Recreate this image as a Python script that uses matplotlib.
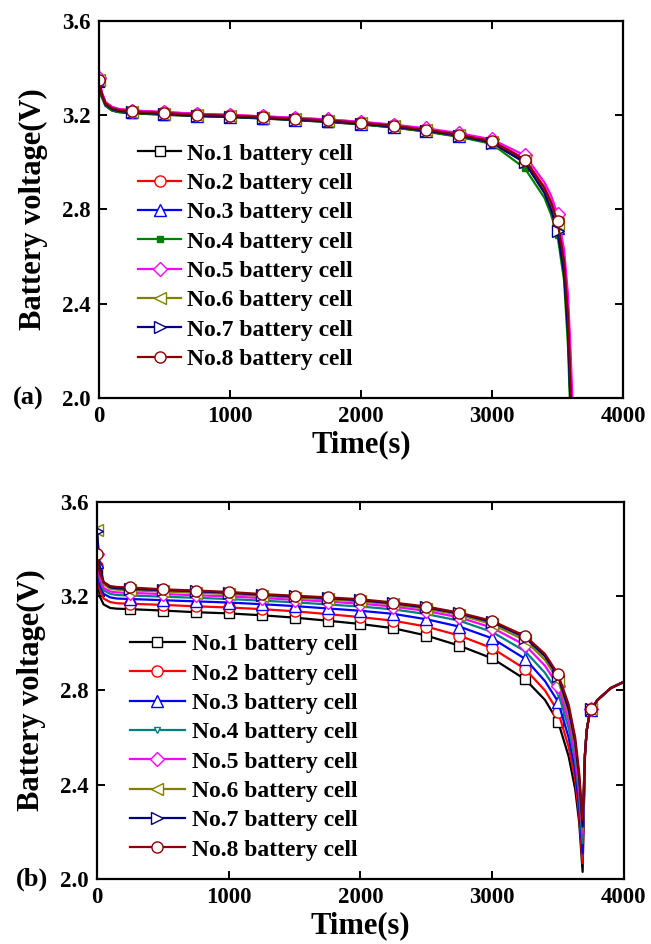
import numpy as np
import matplotlib
matplotlib.use("Agg")
import matplotlib.pyplot as plt

plt.rcParams["font.family"] = ["Liberation Serif", "DejaVu Serif"]
plt.rcParams["font.weight"] = "bold"

LABELS = [f"No.{i} battery cell" for i in range(1, 9)]

# ---- panel (a): time (s) and voltage (V)
T_A = [0, 20, 50, 100, 150, 250, 500, 750, 1000, 1250, 1500, 1750, 2000, 2250,
       2500, 2750, 3000, 3250, 3400, 3450, 3500, 3550, 3580, 3600, 3620, 3640]
V_A1 = [3.34, 3.28, 3.24, 3.22, 3.213, 3.208, 3.202, 3.196, 3.192, 3.186, 3.179, 3.171, 3.161, 3.148,
        3.131, 3.110, 3.082, 3.000, 2.875, 2.81, 2.73, 2.55, 2.30, 1.98, 1.6, 1.3]
V_A2 = [3.35, 3.30, 3.255, 3.235, 3.226, 3.220, 3.213, 3.206, 3.201, 3.195, 3.188, 3.181, 3.171, 3.158,
        3.141, 3.120, 3.092, 3.015, 2.895, 2.835, 2.76, 2.59, 2.37, 2.08, 1.75, 1.45]
V_A3 = [3.35, 3.29, 3.245, 3.225, 3.218, 3.212, 3.205, 3.198, 3.194, 3.188, 3.181, 3.174, 3.164, 3.151,
        3.134, 3.113, 3.085, 3.005, 2.88, 2.815, 2.72, 2.54, 2.30, 1.98, 1.6, 1.3]
V_A4 = [3.34, 3.28, 3.24, 3.22, 3.214, 3.209, 3.203, 3.197, 3.193, 3.187, 3.180, 3.172, 3.162, 3.148,
        3.130, 3.108, 3.078, 2.975, 2.85, 2.78, 2.69, 2.50, 2.22, 1.9, 1.5, 1.2]
V_A5 = [3.36, 3.30, 3.255, 3.235, 3.226, 3.220, 3.213, 3.206, 3.201, 3.195, 3.189, 3.182, 3.172, 3.160,
        3.144, 3.124, 3.097, 3.030, 2.915, 2.86, 2.78, 2.63, 2.44, 2.20, 1.9, 1.55]
V_A6 = [3.35, 3.29, 3.248, 3.228, 3.220, 3.214, 3.207, 3.200, 3.196, 3.190, 3.183, 3.176, 3.166, 3.153,
        3.136, 3.115, 3.087, 3.008, 2.885, 2.82, 2.74, 2.57, 2.33, 2.02, 1.65, 1.35]
V_A7 = [3.35, 3.29, 3.246, 3.226, 3.218, 3.212, 3.205, 3.198, 3.194, 3.188, 3.181, 3.174, 3.164, 3.151,
        3.134, 3.113, 3.084, 3.000, 2.87, 2.80, 2.71, 2.53, 2.28, 1.96, 1.6, 1.3]
V_A8 = [3.35, 3.29, 3.25, 3.23, 3.222, 3.216, 3.209, 3.202, 3.198, 3.192, 3.185, 3.178, 3.168, 3.155,
        3.138, 3.117, 3.089, 3.012, 2.89, 2.83, 2.75, 2.58, 2.35, 2.05, 1.7, 1.4]

# ---- panel (b)
T_B = [0, 20, 50, 100, 150, 250, 500, 750, 1000, 1250, 1500, 1750, 2000, 2250, 2500, 2750,
       3000, 3250, 3400, 3500, 3580, 3630, 3660, 3686, 3704, 3717, 3735, 3750, 3800, 3900, 4000]
V_B1 = [3.30, 3.20, 3.165, 3.15, 3.147, 3.145, 3.139, 3.132, 3.127, 3.119, 3.109, 3.096, 3.082, 3.064, 3.033, 2.990,
        2.936, 2.847, 2.76, 2.667, 2.52, 2.38, 2.24, 2.03, 2.53, 2.63, 2.69, 2.72, 2.76, 2.81, 2.837]
V_B2 = [3.33, 3.23, 3.19, 3.175, 3.17, 3.168, 3.163, 3.157, 3.152, 3.145, 3.136, 3.124, 3.111, 3.096, 3.071, 3.033,
        2.979, 2.891, 2.80, 2.710, 2.56, 2.42, 2.27, 2.066, 2.53, 2.63, 2.69, 2.72, 2.76, 2.81, 2.837]
V_B3 = [3.347, 3.25, 3.21, 3.195, 3.19, 3.188, 3.183, 3.178, 3.173, 3.166, 3.158, 3.148, 3.138, 3.125, 3.102, 3.071,
        3.021, 2.934, 2.84, 2.752, 2.60, 2.46, 2.31, 2.109, 2.53, 2.63, 2.69, 2.715, 2.76, 2.81, 2.837]
V_B4 = [3.36, 3.27, 3.225, 3.21, 3.205, 3.203, 3.198, 3.193, 3.188, 3.181, 3.174, 3.165, 3.156, 3.144, 3.124, 3.096,
        3.048, 2.966, 2.875, 2.79, 2.64, 2.50, 2.35, 2.151, 2.53, 2.63, 2.69, 2.72, 2.76, 2.81, 2.837]
V_B5 = [3.38, 3.28, 3.235, 3.22, 3.216, 3.214, 3.209, 3.204, 3.199, 3.192, 3.185, 3.177, 3.168, 3.156, 3.137, 3.110,
        3.066, 2.992, 2.905, 2.82, 2.67, 2.53, 2.38, 2.194, 2.53, 2.63, 2.69, 2.72, 2.76, 2.81, 2.837]
V_B6 = [3.48, 3.32, 3.25, 3.232, 3.228, 3.225, 3.220, 3.215, 3.209, 3.201, 3.194, 3.187, 3.178, 3.165, 3.147, 3.121,
        3.081, 3.012, 2.93, 2.845, 2.70, 2.56, 2.41, 2.21, 2.53, 2.63, 2.69, 2.72, 2.76, 2.81, 2.837]
V_B7 = [3.477, 3.33, 3.26, 3.238, 3.234, 3.231, 3.226, 3.221, 3.215, 3.206, 3.199, 3.192, 3.183, 3.170, 3.152, 3.127,
        3.090, 3.024, 2.945, 2.86, 2.72, 2.58, 2.43, 2.222, 2.53, 2.63, 2.69, 2.72, 2.76, 2.81, 2.837]
V_B8 = [3.379, 3.30, 3.26, 3.243, 3.239, 3.237, 3.229, 3.224, 3.218, 3.209, 3.202, 3.195, 3.187, 3.173, 3.156, 3.130,
        3.095, 3.031, 2.955, 2.869, 2.74, 2.60, 2.45, 2.25, 2.53, 2.63, 2.69, 2.72, 2.76, 2.81, 2.837]

# styles: (color, marker, face, size)
STYLE_A = [("black", "s", "white", 7), ("red", "o", "white", 8), ("blue", "^", "white", 8),
           ("green", "s", "green", 5), ("magenta", "D", "white", 7), ("#808000", "<", "white", 8),
           ("#000080", ">", "white", 8), ("#8B0000", "o", "white", 8)]
STYLE_B = list(STYLE_A)
STYLE_B[3] = ("#008080", "v", "white", 5)


def panel(ax, t, vs, styles, tag, tag_x, leg_xy, handlelen, textpad):
    t = np.asarray(t)
    mk = np.where((t % 250 == 0) & (t < 4000))[0].tolist()
    for v, (c, m, fc, ms), lab in zip(vs, styles, LABELS):
        ax.plot(t, v, color=c, lw=1.6, marker=m, markevery=mk, ms=ms, mfc=fc, mec=c, mew=1.0, label=lab)
    ax.set_xlim(0, 4000)
    ax.set_ylim(2.0, 3.6)
    ax.set_xticks([0, 1000, 2000, 3000, 4000])
    ax.set_yticks([2.0, 2.4, 2.8, 3.2, 3.6])
    ax.yaxis.set_major_formatter(matplotlib.ticker.FormatStrFormatter("%.1f"))
    ax.tick_params(direction="in", top=True, right=True, length=6, width=1.4, labelsize=16.5, pad=6)
    for s in ax.spines.values():
        s.set_linewidth(1.6)
    ax.set_xlabel("Time(s)", fontsize=22, fontweight="bold", labelpad=2)
    ax.set_ylabel("Battery voltage(V)", fontsize=22, fontweight="bold", labelpad=10)
    ax.text(tag_x, 0.0, tag, transform=ax.transAxes, fontsize=19, fontweight="bold", ha="center", va="center")
    ax.legend(loc="upper left", bbox_to_anchor=leg_xy, frameon=False, fontsize=17,
              handlelength=handlelen, handletextpad=textpad, labelspacing=0.33, borderpad=0, borderaxespad=0)


fig = plt.figure(figsize=(6.51, 9.44), dpi=100)
ax_a = fig.add_axes([0.152, 0.5784, 0.805, 0.3994])
ax_b = fig.add_axes([0.149, 0.0689, 0.8095, 0.3994])

panel(ax_a, T_A, [V_A1, V_A2, V_A3, V_A4, V_A5, V_A6, V_A7, V_A8], STYLE_A, "(a)", -0.135,
      (0.074, 0.676), 1.85, 0.25)
panel(ax_b, T_B, [V_B1, V_B2, V_B3, V_B4, V_B5, V_B6, V_B7, V_B8], STYLE_B, "(b)", -0.123,
      (0.063, 0.65), 2.3, 0.3)

fig.savefig("out.png", dpi=100)
